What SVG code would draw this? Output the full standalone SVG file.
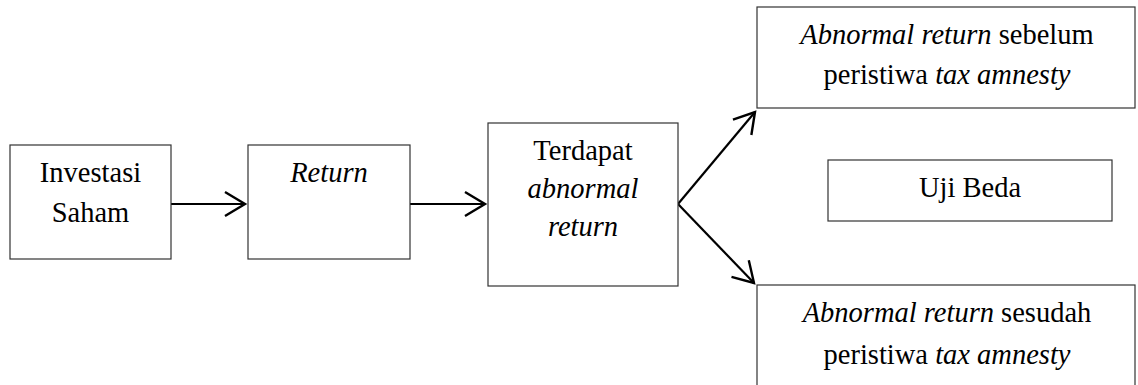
<svg xmlns="http://www.w3.org/2000/svg" width="1138" height="385" viewBox="0 0 1138 385">
<style>
.box{fill:#fff;stroke:#333;stroke-width:1.2}
.t{font-family:"Liberation Serif","Times New Roman",serif;font-size:28.5px;fill:#000;text-anchor:middle}
.i{font-style:italic}
.c{stroke:#000;stroke-width:2.2;fill:none}
</style>
<defs>
<marker id="ah" markerUnits="userSpaceOnUse" markerWidth="40" markerHeight="40" viewBox="-30 -20 40 40" refX="0" refY="0" orient="auto">
<path d="M-20,-12 L0,0 L-20,12" fill="none" stroke="#000" stroke-width="2.4"/>
</marker>
</defs>
<rect width="1138" height="385" fill="#fff"/>
<g id="connectors">
<line class="c" x1="171" y1="204" x2="245" y2="204" marker-end="url(#ah)"/>
<line class="c" x1="410" y1="204" x2="485" y2="204" marker-end="url(#ah)"/>
<line class="c" x1="678" y1="204" x2="755" y2="112" marker-end="url(#ah)"/>
<line class="c" x1="678" y1="204" x2="754" y2="283" marker-end="url(#ah)"/>
</g>
<g id="investasi">
<rect class="box" x="10" y="145" width="161" height="114"/>
<text class="t" x="90.5" y="182">Investasi</text>
<text class="t" x="90.5" y="222">Saham</text>
</g>
<g id="return">
<rect class="box" x="248" y="145" width="162" height="114"/>
<text class="t i" x="329" y="182">Return</text>
</g>
<g id="terdapat">
<rect class="box" x="488" y="123" width="190" height="163"/>
<text class="t" x="583" y="160">Terdapat</text>
<text class="t i" x="583" y="198">abnormal</text>
<text class="t i" x="583" y="236">return</text>
</g>
<g id="sebelum">
<rect class="box" x="757" y="7" width="378" height="101"/>
<text class="t" x="947" y="44"><tspan class="i">Abnormal return</tspan> sebelum</text>
<text class="t" x="947" y="84">peristiwa <tspan class="i">tax amnesty</tspan></text>
</g>
<g id="ujibeda">
<rect class="box" x="828" y="160" width="284" height="61"/>
<text class="t" x="970" y="197">Uji Beda</text>
</g>
<g id="sesudah">
<rect class="box" x="757" y="285" width="378" height="110"/>
<text class="t" x="947" y="322"><tspan class="i">Abnormal return</tspan> sesudah</text>
<text class="t" x="947" y="364">peristiwa <tspan class="i">tax amnesty</tspan></text>
</g>
</svg>
